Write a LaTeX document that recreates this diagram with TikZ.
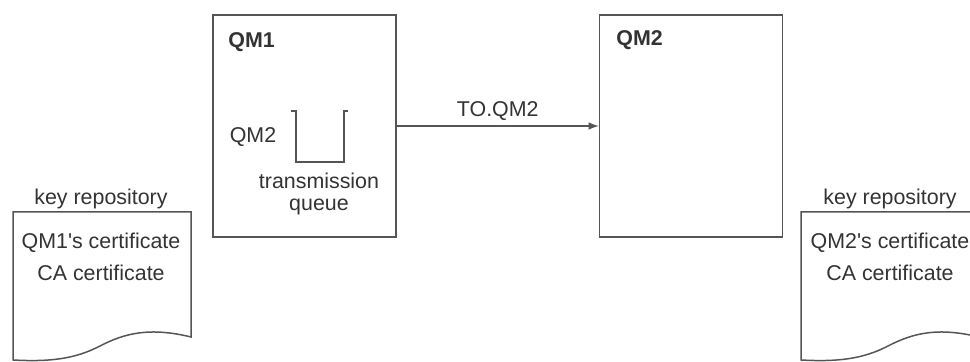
\documentclass[tikz,border=0pt]{standalone}
\usepackage{fontspec}
\setmainfont{Liberation Sans}
\usepackage{tikz}
\usetikzlibrary{positioning}

\definecolor{linegray}{HTML}{555555}
\definecolor{textgray}{HTML}{333333}

\tikzset{
    qmbox/.style={draw=linegray, line width=0.75pt, minimum width=91.5pt, minimum height=111pt, inner sep=0pt},
    txt/.style={text=textgray, font=\fontsize{10.7}{13}\selectfont, inner sep=0pt},
    bold/.style={txt, font=\fontsize{10.7}{13}\selectfont\bfseries},
    docline/.style={draw=linegray, line width=0.75pt}
}

\begin{document}
\begin{tikzpicture}[x=0.5pt, y=-0.5pt]
                \useasboundingbox (0, 0) rectangle (970, 362);
                \clip (0, 0) rectangle (970, 362);

                % queue managers
                \node[qmbox] (qm1) at (304.5, 126) {};
                \node[qmbox] (qm2) at (691, 126) {};
                \node[bold, anchor=west] (qm1label) at (228, 42) {QM1};
                \node[bold, anchor=west] (qm2label) at (616, 40) {QM2};

                % transmission queue
                \node[txt] (queuename) at (253, 137) {QM2};
                \draw[linegray, line width=0.75pt] (291, 111) -- (296, 111) -- (296, 162) -- (344, 162) -- (344, 111) -- (348, 111);
                \node[txt] (transmission) at (319, 181) {transmission};
                \node[txt] (queue) at (319, 207) {queue};

                % channel
                \draw[->, >=latex, linegray, line width=0.75pt] (qm1) -- node[txt, above=2.5pt]{TO.QM2} (qm2);

                % key repositories
                \draw[docline] (13, 212) -- (191, 212) -- (191, 337) .. controls (150, 327) and (125, 333) .. (100, 346) .. controls (75, 359) and (50, 362) .. (13, 360) -- cycle;
                \node[txt] (keyrep1) at (101, 199) {key repository};
                \node[txt] (cert1) at (101, 243) {QM1\textquotesingle s certificate};
                \node[txt] (ca1) at (101, 273) {CA certificate};

                \draw[docline] (801, 212) -- (979, 212) -- (979, 337) .. controls (938, 327) and (913, 333) .. (888, 346) .. controls (863, 359) and (838, 362) .. (801, 360) -- cycle;
                \node[txt] (keyrep2) at (890, 199) {key repository};
                \node[txt] (cert2) at (890, 243) {QM2\textquotesingle s certificate};
                \node[txt] (ca2) at (890, 273) {CA certificate};
            \end{tikzpicture}
\end{document}
